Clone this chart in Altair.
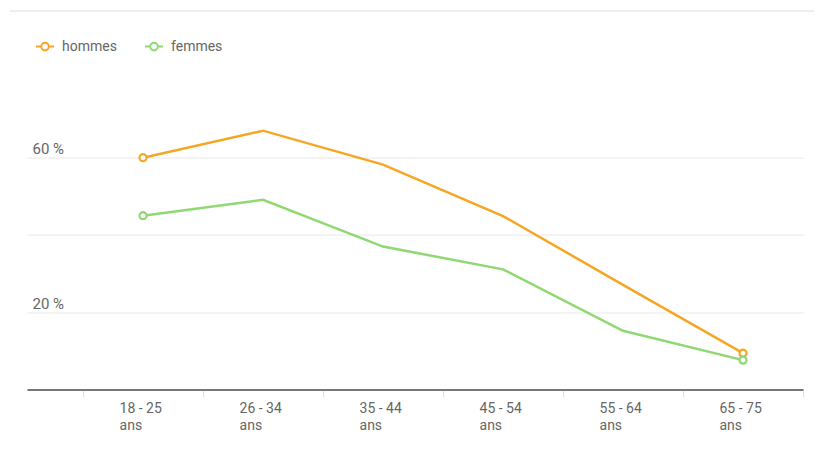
import altair as alt
import pandas as pd

categories = ["18 - 25", "26 - 34", "35 - 44", "45 - 54", "55 - 64", "65 - 75"]
hommes = [60.0, 67.0, 58.2, 44.9, 27.1, 9.4]
femmes = [45.0, 49.1, 37.0, 31.1, 15.2, 7.6]
series_names = ["hommes", "femmes"]
series_colors = ["#f5a623", "#8fd873"]

rows = []
for name, vals in zip(series_names, [hommes, femmes]):
    for i, (c, v) in enumerate(zip(categories, vals)):
        rows.append({"serie": name, "idx": i, "cat": c, "val": v,
                     "edge": i == 0 or i == len(categories) - 1})
df = pd.DataFrame(rows)

label_arr = "[" + ",".join("['%s','ans']" % c for c in categories) + "]"
x_label_expr = label_arr + "[datum.value + 0.5] || ''"

font = "Roboto"
color = alt.Color("serie:N",
                  scale=alt.Scale(domain=series_names, range=series_colors),
                  sort=series_names,
                  legend=alt.Legend(
                      title=None, orient="none", direction="horizontal",
                      legendX=8, legendY=14,
                      symbolType="M-1,0L-0.42,0M0.42,0L1,0M-0.42,0A0.42,0.42 0 1,1 0.42,0A0.42,0.42 0 1,1 -0.42,0",
                      symbolSize=324, symbolStrokeWidth=2, symbolFillColor="white",
                      labelFont=font, labelFontSize=14, labelColor="#666666",
                      labelOffset=7, columnPadding=24))

x_enc = alt.X("idx:Q",
              scale=alt.Scale(domain=[-0.967, 5.5], nice=False, zero=False),
              axis=alt.Axis(title=None, values=[-0.5, 0.5, 1.5, 2.5, 3.5, 4.5, 5.5],
                            labelExpr=x_label_expr, labelAlign="left", labelOffset=36,
                            labelBaseline="top", labelPadding=5, labelLineHeight=17,
                            labelFont=font, labelFontSize=14, labelColor="#666666",
                            domainColor="#777777", domainWidth=2,
                            tickColor="#dddddd", tickSize=7, tickWidth=1,
                            grid=False, labelFlush=False, labelOverlap=False))
y_enc = alt.Y("val:Q",
              scale=alt.Scale(domain=[0, 95], nice=False),
              axis=alt.Axis(title=None, values=[20, 40, 60],
                            labelExpr="datum.value == 40 ? '' : datum.value + ' %'",
                            labelAlign="left", labelPadding=-5, labelBaseline="alphabetic",
                            labelOffset=-4, ticks=False, tickSize=0, domain=False,
                            labelFont=font, labelFontSize=15, labelColor="#666666",
                            grid=True, gridColor="#e8e8e8", gridWidth=1))

base = alt.Chart(df)
lines = base.mark_line(strokeWidth=2.5).encode(x=x_enc, y=y_enc, color=color,
                                               order=alt.Order("idx:Q"))
points = base.transform_filter("datum.edge").mark_point(
    shape="circle", filled=True, fill="white", size=50, strokeWidth=2.2, opacity=1
).encode(x="idx:Q", y="val:Q", stroke=alt.Stroke("serie:N", scale=alt.Scale(domain=series_names, range=series_colors), legend=None))

top_rule = alt.Chart(pd.DataFrame({"a": [0]})).mark_rule(color="#eeeeee", strokeWidth=2).encode(
    x=alt.value(-17), x2=alt.value(787), y=alt.value(-11.5))

chart = alt.layer(top_rule, lines, points).properties(
    width=776, height=367,
    autosize=alt.AutoSizeParams(type="none"),
    padding={"left": 19, "top": 14.5, "right": 14, "bottom": 60}
).configure_view(stroke=None)

chart.save("out.html", embed_options={"renderer": "svg", "actions": False})
